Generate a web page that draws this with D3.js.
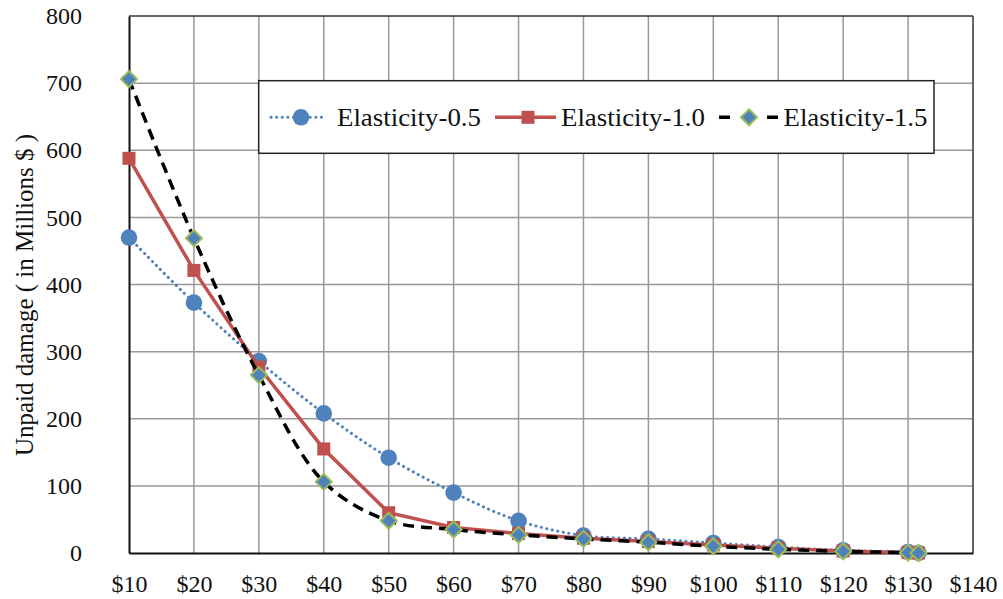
<!DOCTYPE html>
<html><head><meta charset="utf-8">
<script src="https://cdn.jsdelivr.net/npm/d3@7"></script>
<style>body{margin:0;background:#fff}svg{display:block}</style>
</head><body>
<svg id="c" width="1003" height="599"></svg>
<script>
const prices = [10,20,30,40,50,60,70,80,90,100,110,120,130,131.6];
const elasticity05 = [470,373,286,208,142,90,48,26,21,15,9,4,1.5,0];
const elasticity10 = [588,421,277,155,60,38,29,22,17,12,7,3,0.5,0];
const elasticity15 = [706,469,265,106,48,35,27,21,16,10,5.5,2.5,0.5,0];
const xTicks = [10,20,30,40,50,60,70,80,90,100,110,120,130,140];
const yTicks = [0,100,200,300,400,500,600,700,800];
const seriesNames = ["Elasticity-0.5","Elasticity-1.0","Elasticity-1.5"];

const FONT = '"Liberation Serif"';
const svg = d3.select("#c");
const L=129, R=973, T=16, B=553;
const x = d3.scaleLinear().domain([10,140]).range([L,R]);
const y = d3.scaleLinear().domain([0,800]).range([B,T]);

// gridlines
svg.append("g").selectAll("line").data(xTicks.slice(1,-1)).join("line")
  .attr("x1",d=>x(d)).attr("x2",d=>x(d)).attr("y1",T).attr("y2",B)
  .attr("stroke","#999").attr("stroke-width",1.5);
svg.append("g").selectAll("line").data(yTicks.slice(1,-1)).join("line")
  .attr("y1",d=>y(d)).attr("y2",d=>y(d)).attr("x1",L).attr("x2",R)
  .attr("stroke","#999").attr("stroke-width",1.5);
// frame
svg.append("line").attr("x1",L).attr("x2",R).attr("y1",T).attr("y2",T).attr("stroke","#333").attr("stroke-width",1.5);
svg.append("line").attr("x1",R).attr("x2",R).attr("y1",T).attr("y2",B).attr("stroke","#333").attr("stroke-width",1.5);

// axes
const yAxis = svg.append("g").attr("transform",`translate(${L},0)`)
  .call(d3.axisLeft(y).tickValues(yTicks).tickSize(0).tickPadding(47));
const xAxis = svg.append("g").attr("transform",`translate(0,${B})`)
  .call(d3.axisBottom(x).tickValues(xTicks).tickSize(0).tickPadding(22).tickFormat(d=>"$"+d));
[yAxis,xAxis].forEach(a=>{
  a.attr("font-family",null).attr("font-size",null);
  a.select(".domain").attr("stroke","#111").attr("stroke-width",2);
  a.selectAll("text").style("font-family",FONT).style("font-size","24px").attr("fill","#111");
});

// y title
svg.append("text").attr("transform","translate(33,295) rotate(-90)")
  .attr("text-anchor","middle").style("font-family",FONT).style("font-size","25px").attr("fill","#111")
  .text("Unpaid damage ( in Millions $ )");

const pts = arr => arr.map((v,i)=>[prices[i],v]);
const line = curve => d3.line().x(d=>x(d[0])).y(d=>y(d[1])).curve(curve);

// series 0.5
const g1 = svg.append("g");
g1.append("path").attr("d",line(d3.curveCatmullRom.alpha(0.5))(pts(elasticity05)))
  .attr("fill","none").attr("stroke","#4f81bd").attr("stroke-width",3)
  .attr("stroke-dasharray","0.1 5.5").attr("stroke-linecap","round");
g1.selectAll("circle").data(pts(elasticity05)).join("circle")
  .attr("cx",d=>x(d[0])).attr("cy",d=>y(d[1])).attr("r",8.3).attr("fill","#4f81bd");

// series 1.0
const g2 = svg.append("g");
g2.append("path").attr("d",line(d3.curveLinear)(pts(elasticity10)))
  .attr("fill","none").attr("stroke","#c0504d").attr("stroke-width",3.5);
g2.selectAll("rect").data(pts(elasticity10)).join("rect")
  .attr("x",d=>x(d[0])-6.5).attr("y",d=>y(d[1])-6.5).attr("width",13).attr("height",13).attr("fill","#c0504d");

// series 1.5
const g3 = svg.append("g");
g3.append("path").attr("d",line(d3.curveCatmullRom.alpha(0.5))(pts(elasticity15)))
  .attr("fill","none").attr("stroke","#000").attr("stroke-width",3.5).attr("stroke-dasharray","11 7");
const diamond = (cx,cy,r)=>`M${cx},${cy-r}L${cx+r},${cy}L${cx},${cy+r}L${cx-r},${cy}Z`;
g3.selectAll("path.m").data(pts(elasticity15)).join("path").attr("class","m")
  .attr("d",d=>diamond(x(d[0]),y(d[1]),8)).attr("fill","#4f81bd").attr("stroke","#9bbb59").attr("stroke-width",2);

// legend
const lg = svg.append("g");
lg.append("rect").attr("x",258.7).attr("y",80.7).attr("width",675.3).attr("height",72.6)
  .attr("fill","#fff").attr("stroke","#222").attr("stroke-width",1.5);
const ly = 117.3;
lg.append("line").attr("x1",271).attr("x2",325).attr("y1",ly).attr("y2",ly)
  .attr("stroke","#4f81bd").attr("stroke-width",3).attr("stroke-dasharray","0.1 5.5").attr("stroke-linecap","round");
lg.append("circle").attr("cx",301).attr("cy",ly).attr("r",8.3).attr("fill","#4f81bd");
lg.append("line").attr("x1",495).attr("x2",556).attr("y1",ly).attr("y2",ly)
  .attr("stroke","#c0504d").attr("stroke-width",3.5);
lg.append("rect").attr("x",528-6.5).attr("y",ly-6.5).attr("width",13).attr("height",13).attr("fill","#c0504d");
lg.append("line").attr("x1",719).attr("x2",778).attr("y1",ly).attr("y2",ly)
  .attr("stroke","#000").attr("stroke-width",3.5).attr("stroke-dasharray","11 37 11");
lg.append("path").attr("d",diamond(749,ly,8)).attr("fill","#4f81bd").attr("stroke","#9bbb59").attr("stroke-width",2);
const lx = [337,561,783.5];
lg.selectAll("text").data(seriesNames).join("text")
  .attr("x",(d,i)=>lx[i]).attr("y",ly).attr("dy","0.35em")
  .style("font-family",FONT).style("font-size","26px").attr("fill","#111")
  .attr("textLength",144).attr("lengthAdjust","spacingAndGlyphs")
  .text(d=>d);
</script>
</body></html>
